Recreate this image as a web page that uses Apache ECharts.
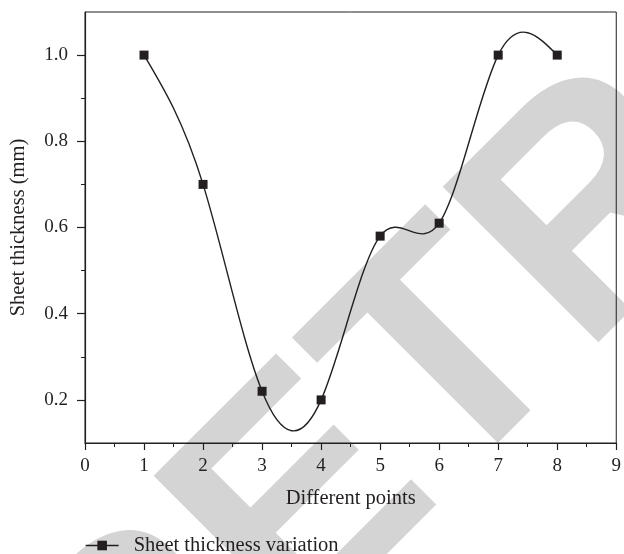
<!DOCTYPE html>
<html>
<head>
<meta charset="utf-8">
<script src="https://cdn.jsdelivr.net/npm/echarts@6/dist/echarts.min.js"></script>
<style>
  html, body { margin: 0; padding: 0; background: #fff; }
  #main { width: 624px; height: 554px; }
</style>
</head>
<body>
<div id="main"></div>
<script>
// data
const pointsX = [1, 2, 3, 4, 5, 6, 7, 8];
const thickness = [1.0, 0.70, 0.22, 0.20, 0.58, 0.61, 1.0, 1.0];
const yMajorTicks = [0.2, 0.4, 0.6, 0.8, 1.0];
const yMinorTicks = [0.3, 0.5, 0.7, 0.9];

const ink = "#231f20";
const serif = "'Liberation Serif', 'DejaVu Serif', serif";

// second derivatives of a natural cubic spline through the points
function splineM(xs, ys) {
  const n = xs.length;
  const M = new Array(n).fill(0);
  const a = [], b = [], c = [], r = [];
  for (let i = 1; i < n - 1; i++) {
    const h0 = xs[i] - xs[i - 1], h1 = xs[i + 1] - xs[i];
    a.push(h0);
    b.push(2 * (h0 + h1));
    c.push(h1);
    r.push(6 * ((ys[i + 1] - ys[i]) / h1 - (ys[i] - ys[i - 1]) / h0));
  }
  const m = b.length;
  for (let i = 1; i < m; i++) {
    const w = a[i] / b[i - 1];
    b[i] -= w * c[i - 1];
    r[i] -= w * r[i - 1];
  }
  const sol = new Array(m);
  sol[m - 1] = r[m - 1] / b[m - 1];
  for (let i = m - 2; i >= 0; i--) sol[i] = (r[i] - c[i] * sol[i + 1]) / b[i];
  for (let i = 0; i < m; i++) M[i + 1] = sol[i];
  return M;
}
const M = splineM(pointsX, thickness);

var myChart = echarts.init(document.getElementById("main"));

var option = {
  animation: false,
  backgroundColor: "#fff",
  grid: {
    left: 84,
    right: 5,
    top: 12,
    bottom: 111,
    show: true,
    borderColor: ink,
    borderWidth: 1,
  },
  // retraction watermark behind the plot
  graphic: [
    {
      type: "text",
      z: -100,
      silent: true,
      x: 766,
      y: 50,
      rotation: Math.PI / 4,
      style: {
        text: "RETRACTED",
        font: "bold 320px 'Liberation Sans', Arial, sans-serif",
        fill: "#d4d4d4",
        textAlign: "center",
        textVerticalAlign: "middle",
      },
    },
  ],
  legend: {
    left: 85,
    top: 535,
    padding: 0,
    itemWidth: 33,
    itemHeight: 12,
    lineStyle: { opacity: 1, width: 1.3, color: ink },
    textStyle: {
      fontFamily: serif,
      fontSize: 20.5,
      color: ink,
      padding: [0, 0, 0, 10],
    },
    data: ["Sheet thickness variation"],
  },
  xAxis: {
    type: "value",
    min: 0,
    max: 9,
    interval: 1,
    name: "Different points",
    nameLocation: "middle",
    nameGap: 45,
    nameTextStyle: { fontFamily: serif, fontSize: 20.5, color: ink },
    axisLine: { lineStyle: { color: ink, width: 1.2 } },
    axisTick: { length: 7, lineStyle: { color: ink, width: 1.2 } },
    minorTick: { show: true, splitNumber: 2, length: 4, lineStyle: { color: ink, width: 1 } },
    axisLabel: { margin: 14, fontFamily: serif, fontSize: 19, color: ink },
    splitLine: { show: false },
  },
  yAxis: [
    {
      type: "value",
      min: 0.1,
      max: 1.1,
      name: "Sheet thickness (mm)",
      nameLocation: "middle",
      nameGap: 56,
      nameTextStyle: { fontFamily: serif, fontSize: 20.5, color: ink },
      axisLine: { show: true, lineStyle: { color: ink, width: 1.2 } },
      axisTick: { show: true, length: 8, customValues: yMajorTicks, lineStyle: { color: ink, width: 1.2 } },
      axisLabel: {
        margin: 17,
        fontFamily: serif,
        fontSize: 19,
        color: ink,
        customValues: yMajorTicks,
        formatter: (v) => v.toFixed(1),
      },
      splitLine: { show: false },
    },
    {
      // minor ticks only
      type: "value",
      position: "left",
      min: 0.1,
      max: 1.1,
      axisLine: { show: false },
      axisTick: { show: true, length: 4, customValues: yMinorTicks, lineStyle: { color: ink, width: 1 } },
      axisLabel: { show: false },
      splitLine: { show: false },
    },
  ],
  series: [
    {
      // spline through the measured points (drawn as bezier segments)
      name: "spline",
      type: "custom",
      z: 1,
      silent: true,
      data: pointsX.map((x, i) => [x, thickness[i]]),
      renderItem: function (params, api) {
        if (params.dataIndex !== 0) return null;
        const xs = pointsX, ys = thickness;
        const children = [];
        for (let i = 0; i < xs.length - 1; i++) {
          const h = xs[i + 1] - xs[i];
          const slope = (ys[i + 1] - ys[i]) / h;
          const d0 = slope - (h * (2 * M[i] + M[i + 1])) / 6;
          const d1 = slope + (h * (M[i] + 2 * M[i + 1])) / 6;
          const p0 = api.coord([xs[i], ys[i]]);
          const c1 = api.coord([xs[i] + h / 3, ys[i] + (d0 * h) / 3]);
          const c2 = api.coord([xs[i + 1] - h / 3, ys[i + 1] - (d1 * h) / 3]);
          const p1 = api.coord([xs[i + 1], ys[i + 1]]);
          children.push({
            type: "bezierCurve",
            shape: {
              x1: p0[0], y1: p0[1],
              cpx1: c1[0], cpy1: c1[1],
              cpx2: c2[0], cpy2: c2[1],
              x2: p1[0], y2: p1[1],
            },
            style: { stroke: ink, lineWidth: 1.4, fill: "none" },
          });
        }
        return { type: "group", children: children };
      },
    },
    {
      name: "Sheet thickness variation",
      type: "line",
      z: 3,
      symbol: "rect",
      symbolSize: 9,
      color: ink,
      lineStyle: { color: ink, width: 1.3, opacity: 0 },
      itemStyle: { color: ink },
      data: pointsX.map((x, i) => [x, thickness[i]]),
    },
  ],
};

myChart.setOption(option);
</script>
</body>
</html>
